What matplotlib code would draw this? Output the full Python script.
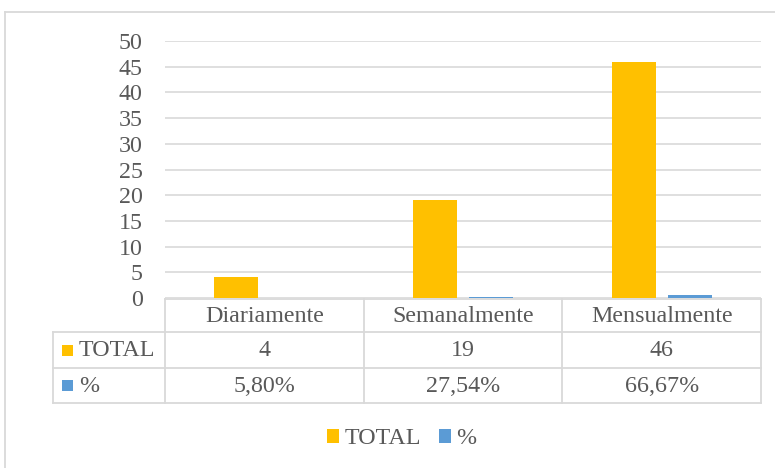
import matplotlib
matplotlib.use('Agg')
import matplotlib.pyplot as plt
from matplotlib.transforms import blended_transform_factory
from matplotlib.patches import Rectangle
from matplotlib.lines import Line2D
import numpy as np

categories = ['Diariamente', 'Semanalmente', 'Mensualmente']
total_values = [4, 19, 46]
pct_values = [0.058, 0.2754, 0.6667]
total_labels = ['4', '19', '46']
pct_labels = ['5,80%', '27,54%', '66,67%']
series_names = ['TOTAL', '%']
yticks = [0, 5, 10, 15, 20, 25, 30, 35, 40, 45, 50]

plt.rcParams['font.family'] = ['Liberation Serif', 'DejaVu Serif']
W, H = 775, 468
fig = plt.figure(figsize=(7.75, 4.68), dpi=100)
TXT = '#595959'
GRID = '#D9D9D9'
colors = ['#FFC000', '#5B9BD5']
FS = 17.3

def fx(px):
    return px / W

def fy(py):
    return 1 - py / H

ax = fig.add_axes([fx(165), fy(298), fx(761) - fx(165), fy(41) - fy(298)])
x = np.arange(len(categories))
bw = 44 / 198.67
off = 28 / 198.67
b1 = ax.bar(x - off, total_values, bw, color=colors[0], label=series_names[0], zorder=2)
b2 = ax.bar(x + off, pct_values, bw, color=colors[1], label=series_names[1], zorder=2)
ax.set_xlim(-0.5, len(categories) - 0.5)
ax.set_ylim(0, 50)
ax.set_yticks(yticks)
ax.yaxis.grid(True, color=GRID, lw=1.2)
ax.set_axisbelow(True)
for s in ax.spines.values():
    s.set_visible(False)
ax.tick_params(axis='y', length=0, pad=16, labelsize=FS, labelcolor=TXT)
ax.set_xticks([])

ov = fig.add_axes([0, 0, 1, 1])
ov.set_xlim(0, W)
ov.set_ylim(H, 0)
ov.axis('off')
tr = blended_transform_factory(ax.transData, ov.transData)

LW = 1.3
# outer chart border (left and top visible)
ov.add_line(Line2D([5, 5], [12, H], color=GRID, lw=LW))
ov.add_line(Line2D([5, W], [12, 12], color=GRID, lw=LW))

# table lines
top_y, r1, r2, r3 = 299, 332, 368, 403
ov.add_line(Line2D([-0.5, len(categories) - 0.5], [top_y, top_y], color=GRID, lw=LW, transform=tr))
for yy in (r1, r2, r3):
    ov.add_line(Line2D([53, 761], [yy, yy], color=GRID, lw=LW))
ov.add_line(Line2D([53, 53], [r1, r3], color=GRID, lw=LW))
for i in range(len(categories) + 1):
    ov.add_line(Line2D([i - 0.5, i - 0.5], [top_y, r3], color=GRID, lw=LW, transform=tr))

for i, c in enumerate(categories):
    ov.text(i, (top_y + r1) / 2 + 1, c, transform=tr, ha='center', va='center', fontsize=FS, color=TXT)
    ov.text(i, (r1 + r2) / 2 + 1, total_labels[i], transform=tr, ha='center', va='center', fontsize=FS, color=TXT)
    ov.text(i, (r2 + r3) / 2 + 1, pct_labels[i], transform=tr, ha='center', va='center', fontsize=FS, color=TXT)

for k, (name, yc) in enumerate(zip(series_names, [(r1 + r2) / 2, (r2 + r3) / 2])):
    ov.add_patch(Rectangle((62, yc - 5.5), 11, 11, color=colors[k], lw=0))
    ov.text(79, yc + 1, name, ha='left', va='center', fontsize=FS, color=TXT)

fig.legend(handles=[b1, b2], labels=series_names, loc='center',
           bbox_to_anchor=(fx(402), fy(439)), ncol=2, frameon=False,
           fontsize=FS, labelcolor=TXT, handlelength=0.47, handleheight=0.47,
           handletextpad=0.25, columnspacing=0.76, borderpad=0, borderaxespad=0)

fig.savefig('out.png', dpi=100)
